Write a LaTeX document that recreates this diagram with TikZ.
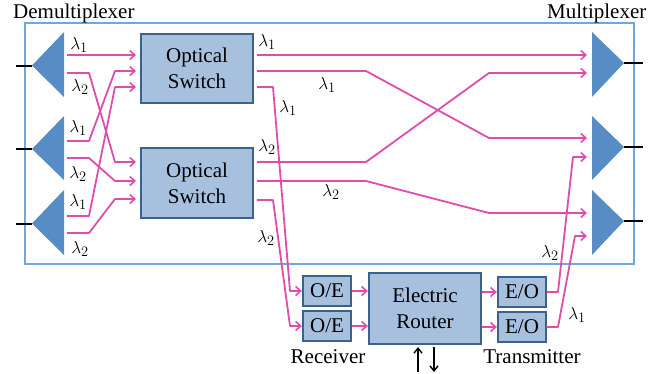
\documentclass[tikz,border=0pt]{standalone}
\usepackage{fontspec}
\setmainfont{Liberation Serif}
\usetikzlibrary{arrows.meta,calc}
\definecolor{sigc}{RGB}{224,76,172}
\definecolor{tric}{RGB}{88,140,197}
\definecolor{boxc}{RGB}{167,192,222}
\definecolor{boxl}{RGB}{60,98,140}
\definecolor{framec}{RGB}{110,168,224}
\begin{document}
\begin{tikzpicture}[x=1pt,y=-1pt,
  sig/.style={draw=sigc,line width=1.8pt,line join=round,-{Straight Barb[length=5pt,width=9pt,line width=1.6pt]}},
  blk/.style={draw=boxl,fill=boxc,line width=1.3pt,inner sep=0pt,align=center,font=\fontsize{21}{26}\selectfont},
  txt/.style={inner sep=0pt,font=\fontsize{21}{26}\selectfont},
  lam/.style={inner sep=0pt,font=\fontsize{19}{22}\selectfont},
  tri/.style={fill=tric},
  fib/.style={line width=2pt},
  ud/.style={line width=1.6pt,-{Straight Barb[length=5pt,width=8pt,line width=1.4pt]}}
]
\useasboundingbox (0,0) rectangle (662,373);

% frame
\node[draw=framec,line width=1.3pt,minimum width=609pt,minimum height=241pt,inner sep=0pt] (fr) at (329.5,143.5) {};

% titles
\node[txt,anchor=base west] (tdemux) at (13,18) {Demultiplexer};
\node[txt,anchor=base west] (tmux) at (547,18) {Multiplexer};

% demultiplexers
\fill[tri] (64,32) -- (64,97) -- (32,65.5) -- cycle;
\fill[tri] (64,116) -- (64,180) -- (32,149) -- cycle;
\fill[tri] (64,190) -- (64,255) -- (32,223.5) -- cycle;
\coordinate (dx1) at (32,65.5); \coordinate (dy1) at (16,65.5);
\coordinate (dx2) at (32,149);  \coordinate (dy2) at (16,149);
\coordinate (dx3) at (32,223.5);\coordinate (dy3) at (16,223.5);
\draw[fib] (dy1) -- (dx1);
\draw[fib] (dy2) -- (dx2);
\draw[fib] (dy3) -- (dx3);

% multiplexers
\fill[tri] (592,32) -- (592,97) -- (624,63) -- cycle;
\fill[tri] (592,116) -- (592,180) -- (624,147) -- cycle;
\fill[tri] (592,190) -- (592,255) -- (624,221) -- cycle;
\coordinate (mx1) at (624,63);  \coordinate (my1) at (643,63);
\coordinate (mx2) at (624,147); \coordinate (my2) at (643,147);
\coordinate (mx3) at (624,221); \coordinate (my3) at (643,221);
\draw[fib] (mx1) -- (my1);
\draw[fib] (mx2) -- (my2);
\draw[fib] (mx3) -- (my3);

% blocks
\node[blk,minimum width=112pt,minimum height=69pt] (s1) at (197,68.5) {Optical\\Switch};
\node[blk,minimum width=112pt,minimum height=70pt] (s2) at (197,183) {Optical\\Switch};
\node[blk,minimum width=48pt,minimum height=30pt] (oe1) at (327,291) {O/E};
\node[blk,minimum width=48pt,minimum height=30pt] (oe2) at (327,326) {O/E};
\node[blk,minimum width=112pt,minimum height=71pt] (rt) at (425,308.5) {Electric\\Router};
\node[blk,minimum width=48pt,minimum height=30pt] (eo1) at (522,292) {E/O};
\node[blk,minimum width=48pt,minimum height=30pt] (eo2) at (522,327) {E/O};

\node[txt,anchor=base] (trx) at (328,363) {Receiver};
\node[txt,anchor=base] (ttx) at (532,363) {Transmitter};

% ports
\coordinate (d1a) at (67,55);  \coordinate (d1b) at (67,73);
\coordinate (d2a) at (67,141); \coordinate (d2b) at (67,158);
\coordinate (d3a) at (67,216); \coordinate (d3b) at (67,233);
\coordinate (s1i1) at (141,55);  \coordinate (s1i2) at (141,71);  \coordinate (s1i3) at (141,87);
\coordinate (s2i1) at (141,162); \coordinate (s2i2) at (141,181); \coordinate (s2i3) at (141,199);
\coordinate (s1o1) at (253,55);  \coordinate (s1o2) at (253,71);  \coordinate (s1o3) at (253,87);
\coordinate (s2o1) at (253,162); \coordinate (s2o2) at (253,181); \coordinate (s2o3) at (253,200);
\coordinate (m1i1) at (592,55);  \coordinate (m1i2) at (592,73);
\coordinate (m2i1) at (592,138); \coordinate (m2i2) at (592,157);
\coordinate (m3i1) at (592,213); \coordinate (m3i2) at (592,236);

% demux -> switches
\draw[sig,shorten >=5pt] (d1a) -- (s1i1);
\draw[sig,shorten >=5pt] (d1b) -- (89,73) -- (115,162) -- (s2i1);
\draw[sig,shorten >=5pt] (d2a) -- (89,141) -- (115,71) -- (s1i2);
\draw[sig,shorten >=5pt] (d2b) -- (89,158) -- (115,181) -- (s2i2);
\draw[sig,shorten >=5pt] (d3a) -- (89,216) -- (115,87) -- (s1i3);
\draw[sig,shorten >=5pt] (d3b) -- (89,233) -- (115,199) -- (s2i3);

% switches -> mux / receivers
\draw[sig,shorten <=4pt,shorten >=5pt] (s1o1) -- (m1i1);
\draw[sig,shorten <=4pt,shorten >=5pt] (s1o2) -- (366,71) -- (489,138) -- (m2i1);
\draw[sig,shorten <=4pt,shorten >=0.5pt] (s1o3) -- (273,87) -- (290,291) -- (oe1.west);
\draw[sig,shorten <=4pt,shorten >=5pt] (s2o1) -- (366,162) -- (489,73) -- (m1i2);
\draw[sig,shorten <=4pt,shorten >=5pt] (s2o2) -- (366,181) -- (489,213) -- (m3i1);
\draw[sig,shorten <=4pt,shorten >=0.5pt] (s2o3) -- (273,200) -- (290,326) -- (oe2.west);

% receiver -> router -> transmitter
\draw[sig,shorten >=0.5pt] (oe1.east) -- (rt.west |- oe1.east);
\draw[sig,shorten >=0.5pt] (oe2.east) -- (rt.west |- oe2.east);
\draw[sig,shorten >=0.5pt] (rt.east |- eo1.west) -- (eo1.west);
\draw[sig,shorten >=0.5pt] (rt.east |- eo2.west) -- (eo2.west);

% transmitter -> mux
\draw[sig,shorten >=5pt] (eo1.east) -- (558,292) -- (573,157) -- (m2i2);
\draw[sig,shorten >=5pt] (eo2.east) -- (558,327) -- (575,236) -- (m3i2);

% router I/O arrows
\coordinate (ua) at (418,372); \coordinate (ub) at (418,347);
\coordinate (da) at (434,347); \coordinate (db) at (434,372);
\draw[ud] (ua) -- (ub);
\draw[ud] (da) -- (db);

% wavelength labels
\node[lam] (l1) at (79,45) {$\lambda_1$};
\node[lam] (l2) at (80,87) {$\lambda_2$};
\node[lam] (l3) at (78,128) {$\lambda_1$};
\node[lam] (l4) at (78,174) {$\lambda_2$};
\node[lam] (l5) at (78,202) {$\lambda_1$};
\node[lam] (l6) at (80,249) {$\lambda_2$};
\node[lam] (l7) at (267,42) {$\lambda_1$};
\node[lam] (l8) at (327,85) {$\lambda_1$};
\node[lam] (l9) at (288,108) {$\lambda_1$};
\node[lam] (l10) at (267,147) {$\lambda_2$};
\node[lam] (l11) at (331,192) {$\lambda_2$};
\node[lam] (l12) at (266,238) {$\lambda_2$};
\node[lam] (l13) at (550,253) {$\lambda_2$};
\node[lam] (l14) at (577,315) {$\lambda_1$};
\end{tikzpicture}
\end{document}
